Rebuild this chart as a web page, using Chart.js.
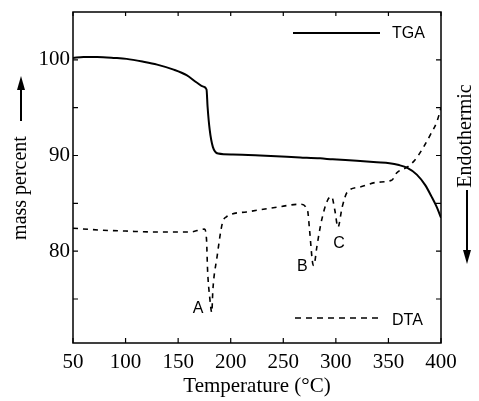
<!DOCTYPE html>
<html>
<head>
<meta charset="utf-8">
<script src="https://cdn.jsdelivr.net/npm/chart.js@4/dist/chart.umd.min.js"></script>
<style>
  html, body { margin: 0; padding: 0; background: #fff; }
  canvas { display: block; }
</style>
</head>
<body>
<canvas id="plot" width="479" height="401"></canvas>
<script>
// TGA trace (mass percent vs temperature)
const tgaTemp = [50, 60, 73, 90, 101, 117, 130, 145, 158, 168, 174, 177, 178, 180, 183, 188, 202, 228, 266, 285, 297, 320, 339, 351, 360, 368, 377, 385, 391, 396, 400];
const tgaMass = [100.2, 100.3, 100.3, 100.2, 100.1, 99.8, 99.5, 99.0, 98.4, 97.6, 97.2, 96.9, 95.1, 92.7, 90.9, 90.2, 90.1, 90.0, 89.8, 89.7, 89.6, 89.45, 89.3, 89.2, 89.0, 88.7, 88.0, 86.9, 85.7, 84.6, 83.5];

// DTA trace, drawn on the same vertical scale (arbitrary units)
const dtaTemp = [50, 76, 100, 130, 161, 175, 177, 178, 180, 182, 183, 187, 192, 196, 215, 244, 266, 273, 275, 278, 279, 282, 286, 292, 296, 299, 302, 306, 311, 323, 339, 353, 358, 368, 375, 383, 391, 396, 400];
const dtaSignal = [82.4, 82.2, 82.1, 82.0, 82.0, 82.3, 81.2, 78.0, 75.2, 73.6, 75.9, 79.4, 82.9, 83.6, 84.1, 84.6, 84.9, 84.3, 82.2, 78.7, 78.5, 80.5, 83.0, 85.3, 85.7, 84.3, 82.5, 84.6, 86.2, 86.7, 87.2, 87.4, 88.2, 88.8, 89.5, 90.8, 92.4, 93.5, 95.0];

// peak labels (temperature, value)
const peakLabels = ['A', 'B', 'C'];
const peakTemp = [169, 268, 303];
const peakValue = [74.0, 78.4, 80.8];

const xTicks = [50, 100, 150, 200, 250, 300, 350, 400];
const yTicks = [75, 80, 85, 90, 95, 100];
const yLabelled = [80, 90, 100];

const serif = '"Liberation Serif", "DejaVu Serif", serif';
const sans = '"Liberation Sans", Arial, sans-serif';

function toPoints(xs, ys) {
    return xs.map((x, i) => ({ x: x, y: ys[i] }));
}

const framePlugin = {
    id: 'frame',
    afterDraw(chart) {
        const ctx = chart.ctx;
        const a = chart.chartArea;
        const xs = chart.scales.x;
        const ys = chart.scales.y;
        ctx.save();
        ctx.strokeStyle = '#000';
        ctx.fillStyle = '#000';

        // box
        ctx.lineWidth = 1.5;
        ctx.strokeRect(a.left, a.top, a.right - a.left, a.bottom - a.top);

        // inward ticks
        ctx.lineWidth = 1.2;
        ctx.beginPath();
        xTicks.forEach(t => {
            const px = xs.getPixelForValue(t);
            ctx.moveTo(px, a.bottom); ctx.lineTo(px, a.bottom - 5);
            ctx.moveTo(px, a.top); ctx.lineTo(px, a.top + 4);
        });
        yTicks.forEach(v => {
            const py = ys.getPixelForValue(v);
            ctx.moveTo(a.left, py); ctx.lineTo(a.left + 5, py);
            ctx.moveTo(a.right, py); ctx.lineTo(a.right - 5, py);
        });
        ctx.stroke();

        // peak letters
        ctx.font = '16px ' + sans;
        ctx.textAlign = 'center';
        ctx.textBaseline = 'middle';
        peakLabels.forEach((lab, i) => {
            ctx.fillText(lab, xs.getPixelForValue(peakTemp[i]), ys.getPixelForValue(peakValue[i]));
        });

        // legends
        ctx.textAlign = 'left';
        ctx.lineWidth = 2;
        ctx.beginPath();
        ctx.moveTo(a.right - 148, a.top + 21);
        ctx.lineTo(a.right - 61, a.top + 21);
        ctx.stroke();
        ctx.fillText('TGA', a.right - 49, a.top + 22);

        ctx.lineWidth = 1.6;
        ctx.setLineDash([6, 5]);
        ctx.beginPath();
        ctx.moveTo(a.right - 146, a.bottom - 25);
        ctx.lineTo(a.right - 61, a.bottom - 25);
        ctx.stroke();
        ctx.setLineDash([]);
        ctx.fillText('DTA', a.right - 49, a.bottom - 22);

        // left axis title with up arrow
        ctx.font = '20px ' + serif;
        ctx.textAlign = 'center';
        ctx.save();
        ctx.translate(21, 188);
        ctx.rotate(-Math.PI / 2);
        ctx.fillText('mass percent', 0, 0);
        ctx.restore();
        drawArrow(ctx, 21, 121, 21, 76);

        // right axis title with down arrow
        ctx.save();
        ctx.translate(466, 136);
        ctx.rotate(-Math.PI / 2);
        ctx.fillText('Endothermic', 0, 0);
        ctx.restore();
        drawArrow(ctx, 467, 190, 467, 264);

        ctx.restore();
    }
};

function drawArrow(ctx, x1, y1, x2, y2) {
    const dir = Math.sign(y2 - y1);
    ctx.lineWidth = 2;
    ctx.beginPath();
    ctx.moveTo(x1, y1);
    ctx.lineTo(x2, y2 - dir * 10);
    ctx.stroke();
    ctx.beginPath();
    ctx.moveTo(x2, y2);
    ctx.lineTo(x2 - 4, y2 - dir * 14);
    ctx.lineTo(x2 + 4, y2 - dir * 14);
    ctx.closePath();
    ctx.fill();
}

new Chart(document.getElementById('plot').getContext('2d'), {
    type: 'line',
    data: {
        datasets: [{
            label: 'TGA',
            data: toPoints(tgaTemp, tgaMass),
            borderColor: '#000',
            borderWidth: 2,
            pointRadius: 0,
            cubicInterpolationMode: 'monotone',
            fill: false
        }, {
            label: 'DTA',
            data: toPoints(dtaTemp, dtaSignal),
            borderColor: '#000',
            borderWidth: 1.6,
            borderDash: [5, 5],
            pointRadius: 0,
            cubicInterpolationMode: 'monotone',
            fill: false
        }]
    },
    options: {
        responsive: false,
        animation: false,
        layout: { padding: { left: 0, right: 38, top: 12, bottom: 0 } },
        plugins: {
            legend: { display: false },
            tooltip: { enabled: false }
        },
        scales: {
            x: {
                type: 'linear',
                min: 50,
                max: 400,
                afterFit(scale) { scale.height = 58; },
                afterBuildTicks(scale) { scale.ticks = xTicks.map(v => ({ value: v })); },
                grid: { display: false, drawTicks: false },
                border: { display: false },
                ticks: {
                    padding: 7,
                    color: '#000',
                    font: { family: serif, size: 21 }
                },
                title: {
                    display: true,
                    text: 'Temperature (°C)',
                    color: '#000',
                    font: { family: serif, size: 21 },
                    padding: { top: 0, bottom: 2 }
                }
            },
            y: {
                type: 'linear',
                min: 70.4,
                max: 105,
                afterFit(scale) {
                    scale.width = 73;
                    scale.paddingTop = 0;
                    scale.paddingBottom = 0;
                },
                afterBuildTicks(scale) { scale.ticks = yLabelled.map(v => ({ value: v })); },
                grid: { display: false, drawTicks: false },
                border: { display: false },
                ticks: {
                    padding: 3,
                    color: '#000',
                    font: { family: serif, size: 21 }
                }
            }
        }
    },
    plugins: [framePlugin]
});
</script>
</body>
</html>
